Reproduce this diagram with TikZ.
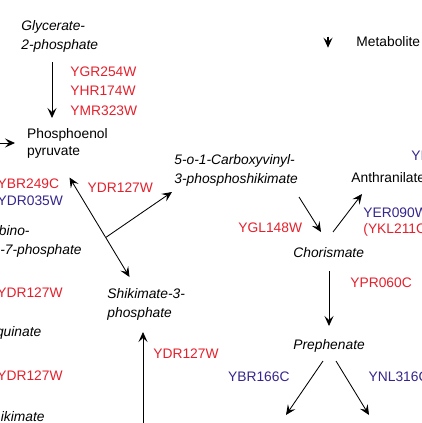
\documentclass[tikz,border=0pt]{standalone}
\usepackage{fontspec}
\setmainfont{Liberation Sans}
\usetikzlibrary{arrows.meta}

\definecolor{genered}{RGB}{228,32,44}
\definecolor{geneblue}{RGB}{52,38,140}

\begin{document}
\begin{tikzpicture}[x=1pt,y=-1pt,
    met/.style={inner sep=0pt,align=left,font=\fontsize{13.8}{19}\selectfont\itshape},
    metup/.style={met,font=\fontsize{13.8}{17}\selectfont},
    gene/.style={inner sep=0pt,align=left,text=genered,font=\fontsize{13.8}{19.7}\selectfont},
    geneb/.style={gene,text=geneblue},
    >={Stealth[length=10pt,width=9pt,inset=4pt]},
    line width=0.85pt
]
\useasboundingbox (0,0) rectangle (422,423);
\clip (0,0) rectangle (422,423);

% legend
\node[metup,anchor=base west] (legend) at (356,46.7) {Metabolite};
\draw[->,line width=1.2pt] ([shift={(-28,-10)}]legend.base west) -- ([shift={(-28,1)}]legend.base west);

% metabolites (base = last line)
\node[met,anchor=base west]   (g2p)   at (21,49)      {Glycerate-\\2-phosphate};
\node[metup,anchor=base west] (pep)   at (26.7,155)   {Phosphoenol\\pyruvate};
\node[met,anchor=base west]   (cvs)   at (174,183.3)  {5-o-1-Carboxyvinyl-\\3-phosphoshikimate};
\node[metup,anchor=base west] (anth)  at (351,182.5)  {Anthranilate};
\node[met,anchor=base west]   (chor)  at (293,257.5)  {Chorismate};
\node[met,anchor=base west]   (preph) at (293,349.3)  {Prephenate};
\node[met,anchor=base west]   (s3p)   at (107,317)    {Shikimate-3-\\phosphate};

% cut off at the left edge
\node[met,anchor=base east] (dahpa) at (30,235)     {bino-};
\node[met,anchor=base east] (dahpb) at (82,254.3)   {-7-phosphate};
\node[met,anchor=base east] (dhq)   at (41.7,336.7) {quinate};
\node[met,anchor=base east] (dhs)   at (45,421.7)   {ikimate};

% genes
\node[gene,anchor=base west]  (eno)   at (70,115.4)   {YGR254W\\YHR174W\\YMR323W};
\node[gene,anchor=base west]  (aro4)  at (-2.7,188)   {YBR249C};
\node[geneb,anchor=base west] (aro3)  at (-2.7,205.5) {YDR035W};
\node[gene,anchor=base west]  (aroa)  at (87.3,192.7) {YDR127W};
\node[gene,anchor=base west]  (arob)  at (-3,297)     {YDR127W};
\node[gene,anchor=base west]  (aroc)  at (-3,380.7)   {YDR127W};
\node[gene,anchor=base west]  (arod)  at (153,358.3)  {YDR127W};
\node[gene,anchor=base west]  (aro2)  at (238,232.5)  {YGL148W};
\node[geneb,anchor=base west] (trp2)  at (363,217.5)  {YER090W};
\node[gene,anchor=base west]  (trp3)  at (363,233)    {(YKL211C};
\node[geneb,anchor=base west] (trp)   at (411,160)    {YI};
\node[gene,anchor=base west]  (aro7)  at (350,287)    {YPR060C};
\node[geneb,anchor=base west] (tyr1)  at (227.7,381.7) {YBR166C};
\node[geneb,anchor=base west] (pha2)  at (368.3,381.7) {YNL316C};

% free ends
\coordinate (j)     at (105.7,237.5);
\coordinate (pepin) at (-5,143);
\coordinate (shk)   at (143,430);
\coordinate (hpp)   at (286,415);
\coordinate (ppy)   at (369,415);

% reactions
\draw[->] ([shift={(31,13)}]g2p.base west) -- ([shift={(25.3,-37)}]pep.base west);
\draw[->] (pepin) -- ([shift={(-11.7,-12)}]pep.base west);
\draw[->] (j) -- ([shift={(42.8,22.5)}]pep.base west);
\draw[->] (j) -- ([shift={(22.5,-40)}]s3p.base west);
\draw[->] (j) -- ([shift={(-2,8.7)}]cvs.base west);
\draw[->] ([shift={(125,13.7)}]cvs.base west) -- ([shift={(28,-25.5)}]chor.base west);
\draw[->] ([shift={(40,-25.5)}]chor.base west) -- ([shift={(11,11.5)}]anth.base west);
\draw[->] ([shift={(36,13.5)}]chor.base west) -- ([shift={(36,-23.3)}]preph.base west);
\draw[->] ([shift={(30,11.7)}]preph.base west) -- (hpp);
\draw[->] ([shift={(43,11.7)}]preph.base west) -- (ppy);
\draw[->] (shk) -- ([shift={(36,15)}]s3p.base west);

\end{tikzpicture}
\end{document}
